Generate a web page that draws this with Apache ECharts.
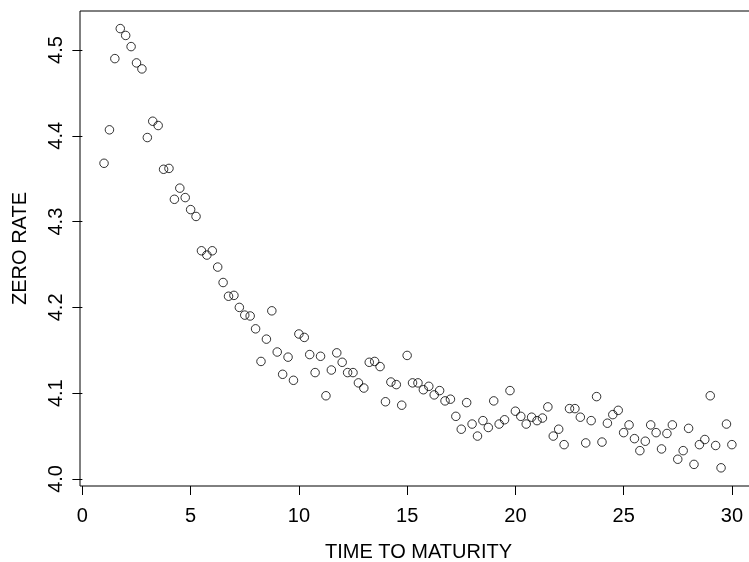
<!DOCTYPE html>
<html>
<head>
<meta charset="utf-8">
<script src="https://cdn.jsdelivr.net/npm/echarts@6/dist/echarts.min.js"></script>
<style>
html, body { margin: 0; padding: 0; background: #fff; }
#main { width: 749px; height: 562px; }
</style>
</head>
<body>
<div id="main"></div>
<script>
// data
var maturity = [
    1, 1.25, 1.5, 1.75, 2, 2.25, 2.5, 2.75, 3, 3.25, 3.5, 3.75,
    4, 4.25, 4.5, 4.75, 5, 5.25, 5.5, 5.75, 6, 6.25, 6.5, 6.75,
    7, 7.25, 7.5, 7.75, 8, 8.25, 8.5, 8.75, 9, 9.25, 9.5, 9.75,
    10, 10.25, 10.5, 10.75, 11, 11.25, 11.5, 11.75, 12, 12.25, 12.5, 12.75,
    13, 13.25, 13.5, 13.75, 14, 14.25, 14.5, 14.75, 15, 15.25, 15.5, 15.75,
    16, 16.25, 16.5, 16.75, 17, 17.25, 17.5, 17.75, 18, 18.25, 18.5, 18.75,
    19, 19.25, 19.5, 19.75, 20, 20.25, 20.5, 20.75, 21, 21.25, 21.5, 21.75,
    22, 22.25, 22.5, 22.75, 23, 23.25, 23.5, 23.75, 24, 24.25, 24.5, 24.75,
    25, 25.25, 25.5, 25.75, 26, 26.25, 26.5, 26.75, 27, 27.25, 27.5, 27.75,
    28, 28.25, 28.5, 28.75, 29, 29.25, 29.5, 29.75, 30
];
var zeroRate = [
    4.368, 4.407, 4.490, 4.525, 4.517, 4.504, 4.485, 4.478, 4.398, 4.417, 4.412, 4.361,
    4.362, 4.326, 4.339, 4.328, 4.314, 4.306, 4.266, 4.261, 4.266, 4.247, 4.229, 4.213,
    4.214, 4.200, 4.191, 4.190, 4.175, 4.137, 4.163, 4.196, 4.148, 4.122, 4.142, 4.115,
    4.169, 4.165, 4.145, 4.124, 4.143, 4.097, 4.127, 4.147, 4.136, 4.124, 4.124, 4.112,
    4.106, 4.136, 4.137, 4.131, 4.090, 4.113, 4.110, 4.086, 4.144, 4.112, 4.112, 4.104,
    4.108, 4.098, 4.103, 4.091, 4.093, 4.073, 4.058, 4.089, 4.064, 4.050, 4.068, 4.060,
    4.091, 4.064, 4.069, 4.103, 4.079, 4.073, 4.064, 4.072, 4.068, 4.071, 4.084, 4.050,
    4.058, 4.040, 4.082, 4.082, 4.072, 4.042, 4.068, 4.096, 4.043, 4.065, 4.075, 4.080,
    4.054, 4.063, 4.047, 4.033, 4.044, 4.063, 4.054, 4.035, 4.053, 4.063, 4.023, 4.033,
    4.059, 4.017, 4.040, 4.046, 4.097, 4.039, 4.013, 4.064, 4.040
];
var xTicks = [0, 5, 10, 15, 20, 25, 30];
var yTicks = [4.0, 4.1, 4.2, 4.3, 4.4, 4.5];

var points = maturity.map(function (m, i) { return [m, zeroRate[i]]; });

var font = 'Liberation Sans, Arial, sans-serif';
var chart = echarts.init(document.getElementById('main'));
chart.setOption({
    animation: false,
    backgroundColor: '#fff',
    grid: {
        left: 80, top: 11, width: 677, height: 475,
        show: true, borderColor: '#000', borderWidth: 1,
        outerBoundsMode: 'none'
    },
    xAxis: {
        type: 'value',
        min: -0.11, max: 31.16,
        name: 'TIME TO MATURITY',
        nameLocation: 'middle',
        nameGap: 56,
        nameTextStyle: { fontFamily: font, fontSize: 20, color: '#000' },
        axisLine: { show: false },
        splitLine: { show: false },
        axisTick: { show: true, length: 9, customValues: xTicks, lineStyle: { color: '#000', width: 1 } },
        axisLabel: {
            customValues: xTicks, margin: 20,
            fontFamily: font, fontSize: 20, color: '#000'
        }
    },
    yAxis: {
        type: 'value',
        min: 3.9918, max: 4.5455,
        name: 'ZERO RATE',
        nameLocation: 'middle',
        nameGap: 50,
        nameTextStyle: { fontFamily: font, fontSize: 20, color: '#000' },
        axisLine: { show: false },
        splitLine: { show: false },
        axisTick: { show: true, length: 10, customValues: yTicks, lineStyle: { color: '#000', width: 1 } },
        axisLabel: {
            customValues: yTicks, margin: 14, rotate: 90,
            fontFamily: font, fontSize: 20, color: '#000',
            formatter: function (v) { return v.toFixed(1); }
        }
    },
    series: [{
        type: 'scatter',
        data: points,
        symbol: 'circle',
        symbolSize: 8.5,
        itemStyle: { color: 'transparent', borderColor: '#000', borderWidth: 1 }
    }]
});
</script>
</body>
</html>
